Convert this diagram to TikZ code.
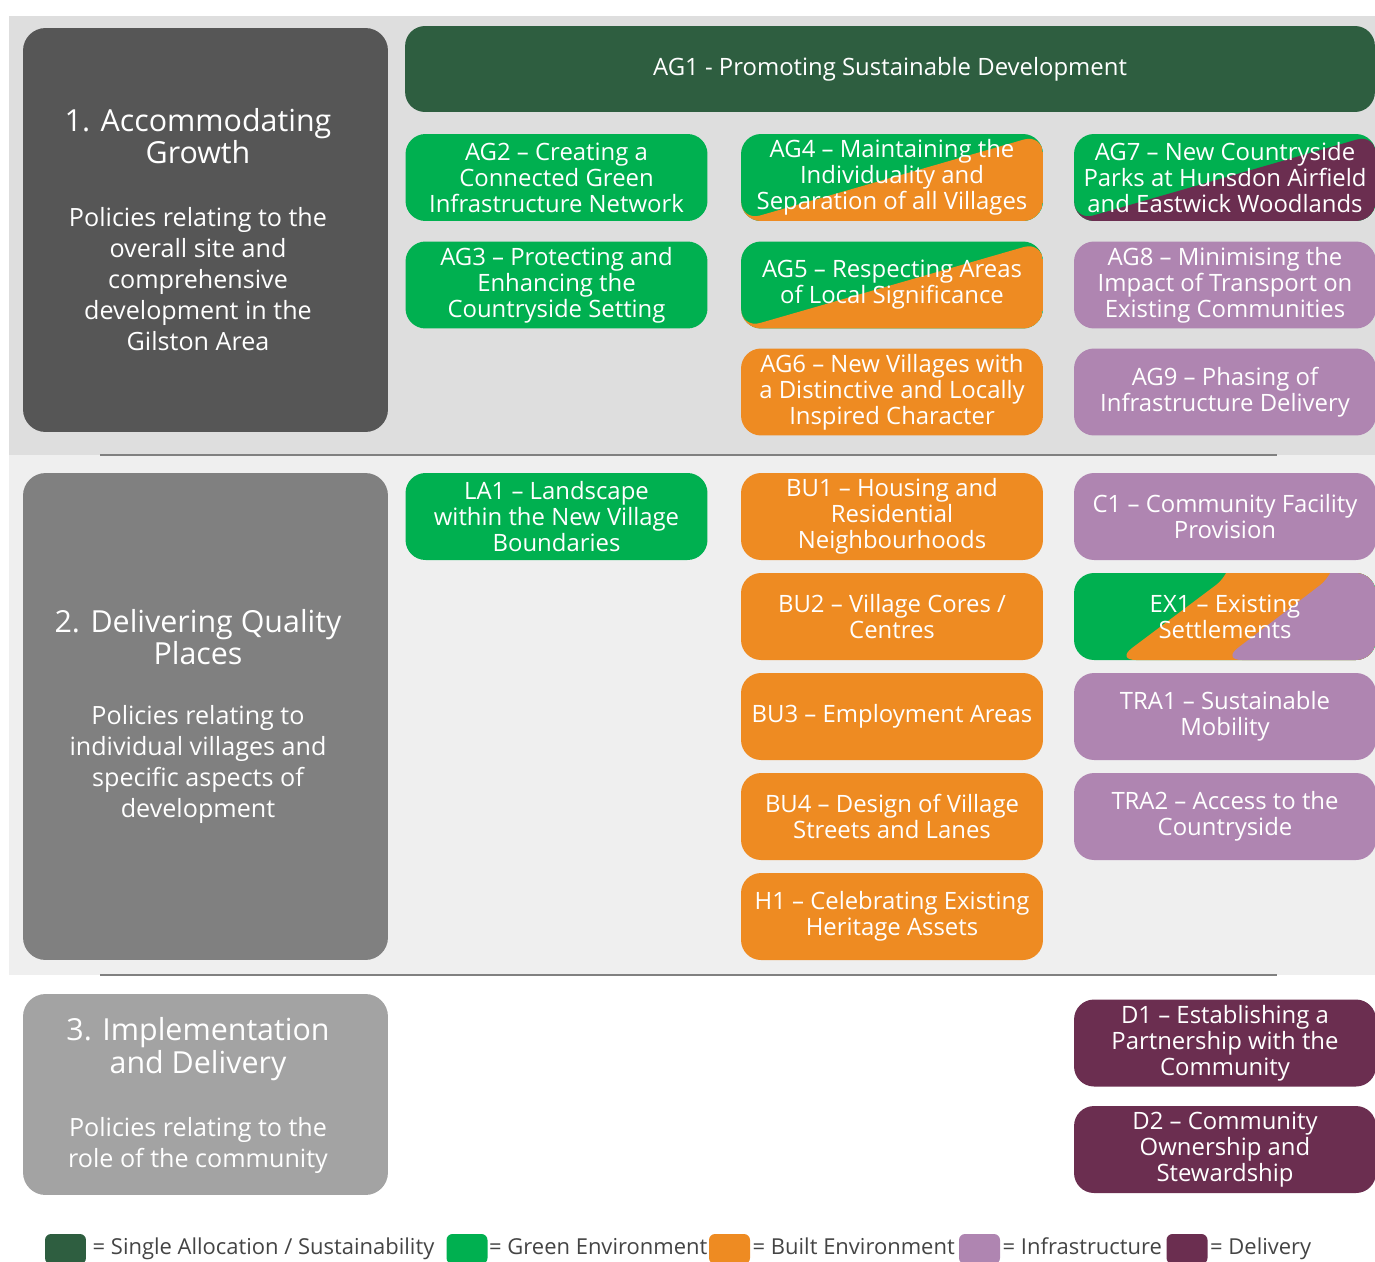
\documentclass[tikz,border=0pt]{standalone}
\usepackage{fontspec}
\setmainfont{Open Sans}
\usetikzlibrary{positioning,calc}
\definecolor{sadark}{HTML}{2E5E40}
\definecolor{greenenv}{HTML}{00B050}
\definecolor{builtenv}{HTML}{EE8B22}
\definecolor{infra}{HTML}{AF85B1}
\definecolor{delivery}{HTML}{6B2E50}
\definecolor{bandone}{HTML}{DEDEDE}
\definecolor{bandtwo}{HTML}{EFEFEF}
\definecolor{secone}{HTML}{565656}
\definecolor{sectwo}{HTML}{808080}
\definecolor{secthree}{HTML}{A3A3A3}
\definecolor{legtext}{HTML}{444444}

\begin{document}
\begin{tikzpicture}[
  x=0.02cm, y=-0.02cm,
  pol/.style={rectangle, rounded corners=0.4cm, minimum width=6.04cm, minimum height=1.74cm, align=center, text=white, font=\fontsize{13.6}{14.8}\selectfont, inner sep=0pt},
  sec/.style={rectangle, rounded corners=0.45cm, minimum width=7.3cm, inner sep=0pt},
  sectitle/.style={align=center, text=white, font=\fontsize{17.3}{18.4}\selectfont},
  secbody/.style={align=center, text=white, font=\fontsize{14.3}{17.6}\selectfont},
  split/.style 2 args={fill=#1, path picture={\fill[#2] (path picture bounding box.south west) -- (path picture bounding box.north east) |- cycle;}},
  swatch/.style={rectangle, rounded corners=0.12cm, minimum width=0.82cm, minimum height=0.6cm, inner sep=0pt},
  legend/.style={text=legtext, font=\fontsize{12.5}{14}\selectfont, inner sep=0pt, text height=1.6ex, text depth=0.5ex}
]
\useasboundingbox (0,0) rectangle (1375,1261);

% Background bands and dividers
\fill[bandone] (9,16) rectangle (1375,455);
\fill[bandtwo] (9,455) rectangle (1375,975);
\draw[gray, line width=0.8pt] (100,455) -- (1277,455);
\draw[gray, line width=0.8pt] (100,975) -- (1277,975);

% Section boxes on the left
\node[sec, fill=secone, minimum height=8.08cm] (sec1) at (205.5,230) {};
\node[sectitle] (sec1title) at (198,136) {1. Accommodating\\Growth};
\node[secbody] (sec1body) at (198,279) {Policies relating to the\\overall site and\\comprehensive\\development in the\\Gilston Area};

\node[sec, fill=sectwo, minimum height=9.74cm] (sec2) at (205.5,716.5) {};
\node[sectitle] (sec2title) at (198,637) {2. Delivering Quality\\Places};
\node[secbody] (sec2body) at (198,764.5) {Policies relating to\\individual villages and\\specific aspects of\\development};

\node[sec, fill=secthree, minimum height=4.02cm] (sec3) at (205.5,1094.5) {};
\node[sectitle] (sec3title) at (198,1049) {3. Implementation\\and Delivery};
\node[secbody] (sec3body) at (198,1145) {Policies relating to the\\role of the community};

% Section 1: accommodating growth
\node[pol, fill=sadark, minimum width=19.4cm, minimum height=1.72cm] (ag1) at (890,69) {AG1 - Promoting Sustainable Development};

\node[pol, fill=greenenv] (ag2) at (556.5,177.5) {AG2 -- Creating a\\Connected Green\\Infrastructure Network};
\node[pol, fill=greenenv] (ag3) at (556.5,285) {AG3 -- Protecting and\\Enhancing the\\Countryside Setting};

\node[pol, split={greenenv}{builtenv}] (ag4) at (892,177.5) {AG4 -- Maintaining the\\Individuality and\\Separation of all Villages};
\node[pol, split={greenenv}{builtenv}] (ag5) at (892,285) {AG5 -- Respecting Areas\\of Local Significance};
\node[pol, fill=builtenv] (ag6) at (892,392) {AG6 -- New Villages with\\a Distinctive and Locally\\Inspired Character};

\node[pol, split={greenenv}{delivery}] (ag7) at (1225,177.5) {AG7 -- New Countryside\\Parks at Hunsdon Airfield\\and Eastwick Woodlands};
\node[pol, fill=infra] (ag8) at (1225,285) {AG8 -- Minimising the\\Impact of Transport on\\Existing Communities};
\node[pol, fill=infra] (ag9) at (1225,392) {AG9 -- Phasing of\\Infrastructure Delivery};

% Section 2: delivering quality places
\node[pol, fill=greenenv] (la1) at (556.5,516.5) {LA1 -- Landscape\\within the New Village\\Boundaries};

\node[pol, fill=builtenv] (bu1) at (892,516.5) {BU1 -- Housing and\\Residential\\Neighbourhoods};
\node[pol, fill=builtenv] (bu2) at (892,616.5) {BU2 -- Village Cores /\\Centres};
\node[pol, fill=builtenv] (bu3) at (892,716.5) {BU3 -- Employment Areas};
\node[pol, fill=builtenv] (bu4) at (892,816.5) {BU4 -- Design of Village\\Streets and Lanes};
\node[pol, fill=builtenv] (h1) at (892,916.5) {H1 -- Celebrating Existing\\Heritage Assets};

\node[pol, fill=infra] (c1) at (1225,516.5) {C1 -- Community Facility\\Provision};
\node[pol, fill=greenenv, path picture={
    \fill[builtenv] ($(path picture bounding box.north west)+(158,0)$) -- ($(path picture bounding box.south west)+(42,0)$) -| (path picture bounding box.south east) |- cycle;
    \fill[infra] ($(path picture bounding box.north west)+(262,0)$) -- ($(path picture bounding box.south west)+(148,0)$) -| (path picture bounding box.south east) |- cycle;
  }] (ex1) at (1225,616.5) {EX1 -- Existing\\Settlements};
\node[pol, fill=infra] (tra1) at (1225,716.5) {TRA1 -- Sustainable\\Mobility};
\node[pol, fill=infra] (tra2) at (1225,816.5) {TRA2 -- Access to the\\Countryside};

% Section 3: implementation and delivery
\node[pol, fill=delivery] (d1) at (1225,1043) {D1 -- Establishing a\\Partnership with the\\Community};
\node[pol, fill=delivery] (d2) at (1225,1149.5) {D2 -- Community\\Ownership and\\Stewardship};

% Legend
\node[swatch, fill=sadark] (keysa) at (65.5,1249) {};
\node[legend, right=0.12cm of keysa] (keysalabel) {= Single Allocation / Sustainability};
\node[swatch, fill=greenenv] (keyge) at (467,1249) {};
\node[legend, right=0.02cm of keyge] (keygelabel) {= Green Environment};
\node[swatch, fill=builtenv] (keybe) at (729.5,1249) {};
\node[legend, right=0.04cm of keybe] (keybelabel) {= Built Environment};
\node[swatch, fill=infra] (keyin) at (979.5,1249) {};
\node[legend, right=0.04cm of keyin] (keyinlabel) {= Infrastructure};
\node[swatch, fill=delivery] (keyde) at (1187,1249) {};
\node[legend, right=0.04cm of keyde] (keydelabel) {= Delivery};
\end{tikzpicture}
\end{document}
